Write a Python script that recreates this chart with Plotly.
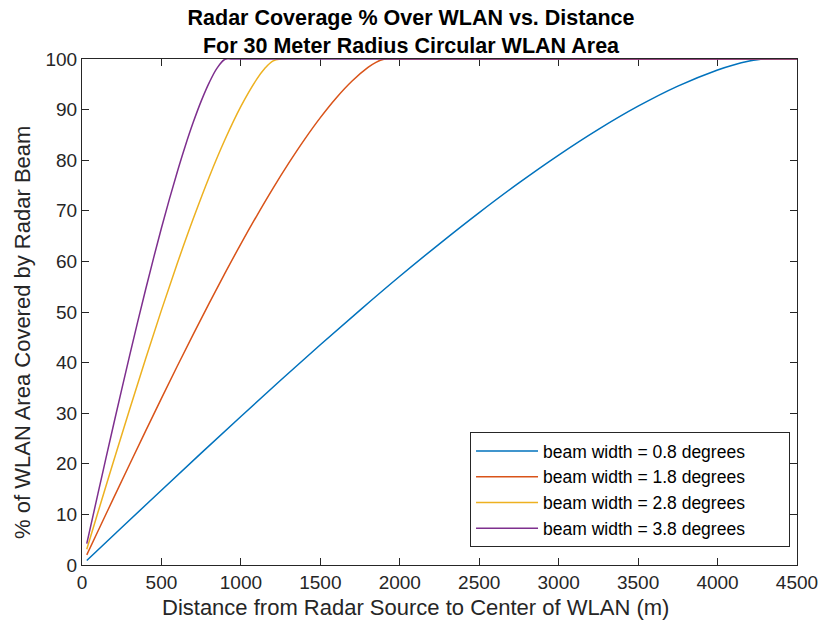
import plotly.graph_objects as go

# Distance from radar source to the WLAN centre (m) and coverage (%) per beam width
dist_08 = [30, 250, 500, 750, 1000, 1250, 1500, 1750, 2000, 2250, 2500, 2750,
           3000, 3250, 3500, 3750, 4000, 4100, 4200, 4250, 4300, 4500]
cov_08 = [0.89, 7.40, 14.78, 22.11, 29.36, 36.51, 43.53, 50.38, 57.06, 63.48, 69.65, 75.52,
          81.02, 86.10, 90.68, 94.65, 97.84, 98.83, 99.59, 99.86, 100, 100]

dist_18 = [30, 100, 200, 300, 400, 500, 600, 700, 800, 900, 1000, 1100, 1200, 1300,
           1400, 1500, 1600, 1700, 1800, 1850, 1900, 1950, 4500]
cov_18 = [2.00, 6.66, 13.31, 19.91, 26.47, 32.94, 39.32, 45.59, 51.71, 57.68, 63.46, 69.02,
          74.34, 79.37, 84.08, 88.42, 92.31, 95.65, 98.33, 99.34, 99.96, 100, 100]

dist_28 = [30, 100, 200, 300, 400, 500, 600, 700, 800, 900, 1000, 1100, 1150, 1200, 1250, 4500]
cov_28 = [3.11, 10.36, 20.64, 30.79, 40.72, 50.37, 59.63, 68.41, 76.64, 84.08, 90.63, 96.01,
          98.10, 99.59, 100, 100]

dist_38 = [30, 100, 150, 200, 250, 300, 350, 400, 450, 500, 550, 600, 650, 700, 750, 800,
           850, 900, 950, 4500]
cov_38 = [4.22, 14.04, 21.01, 27.91, 34.72, 41.42, 47.99, 54.39, 60.61, 66.60, 72.31, 77.73,
          82.81, 87.48, 91.68, 95.29, 98.20, 99.96, 100, 100]

series_names = ["beam width = 0.8 degrees", "beam width = 1.8 degrees",
                "beam width = 2.8 degrees", "beam width = 3.8 degrees"]
series_colors = ["#0072BD", "#D95319", "#EDB120", "#7E2F8E"]
series_x = [dist_08, dist_18, dist_28, dist_38]
series_y = [cov_08, cov_18, cov_28, cov_38]

x_ticks = [0, 500, 1000, 1500, 2000, 2500, 3000, 3500, 4000, 4500]
y_ticks = [0, 10, 20, 30, 40, 50, 60, 70, 80, 90, 100]

title_text = "Radar Coverage % Over WLAN vs. Distance<br>For 30 Meter Radius Circular WLAN Area"
x_label = "Distance from Radar Source to Center of WLAN (m)"
y_label = "% of WLAN Area Covered by Radar Beam"

FONT = "Liberation Sans, Arial, Helvetica, sans-serif"
AXIS_COLOR = "#262626"
W, H = 830, 626
LEGEND_PAD = "\u00a0" * 8  # trailing room inside the legend box

fig = go.Figure()
for name, color, xs, ys in zip(series_names, series_colors, series_x, series_y):
    fig.add_trace(go.Scatter(x=xs, y=ys, mode="lines", name=name + LEGEND_PAD,
                             line=dict(color=color, width=1.5, shape="spline", smoothing=1.0)))

axis_common = dict(
    showline=True, linecolor=AXIS_COLOR, linewidth=1, mirror="ticks",
    ticks="inside", ticklen=7, tickwidth=1, tickcolor=AXIS_COLOR,
    showgrid=False, zeroline=False, layer="below traces",
    tickfont=dict(family=FONT, size=19, color=AXIS_COLOR),
)
fig.update_xaxes(range=[0, 4500], tickvals=x_ticks, **axis_common)
fig.update_yaxes(range=[0, 100], tickvals=y_ticks, **axis_common)

# Axis titles placed in container pixels
fig.add_annotation(text=x_label, xref="paper", yref="paper",
                   x=(421 - 82) / 726, y=-(607 - 565) / 506,
                   xanchor="center", yanchor="middle", showarrow=False,
                   font=dict(family=FONT, size=22, color=AXIS_COLOR))
fig.add_annotation(text=y_label, xref="paper", yref="paper",
                   x=-(82 - 21) / 726, y=(565 - 332) / 506, textangle=-90,
                   xanchor="center", yanchor="middle", showarrow=False,
                   font=dict(family=FONT, size=22, color=AXIS_COLOR))

fig.update_layout(
    width=W, height=H,
    margin=dict(l=82, r=22, t=59, b=61),
    paper_bgcolor="white", plot_bgcolor="white",
    title=dict(text="<b>" + title_text + "</b>",
               font=dict(family=FONT, size=21.5, color="black"),
               x=411 / W, xref="container", xanchor="center",
               y=1 - 25 / H, yref="container", yanchor="middle"),
    legend=dict(x=(476 - 82) / 726, y=(565 - 547) / 506, xanchor="left", yanchor="bottom",
                bgcolor="white", bordercolor=AXIS_COLOR, borderwidth=1,
                font=dict(family=FONT, size=17.5, color="black"),
                itemwidth=62),
    showlegend=True,
)

fig.write_html("out.html")
